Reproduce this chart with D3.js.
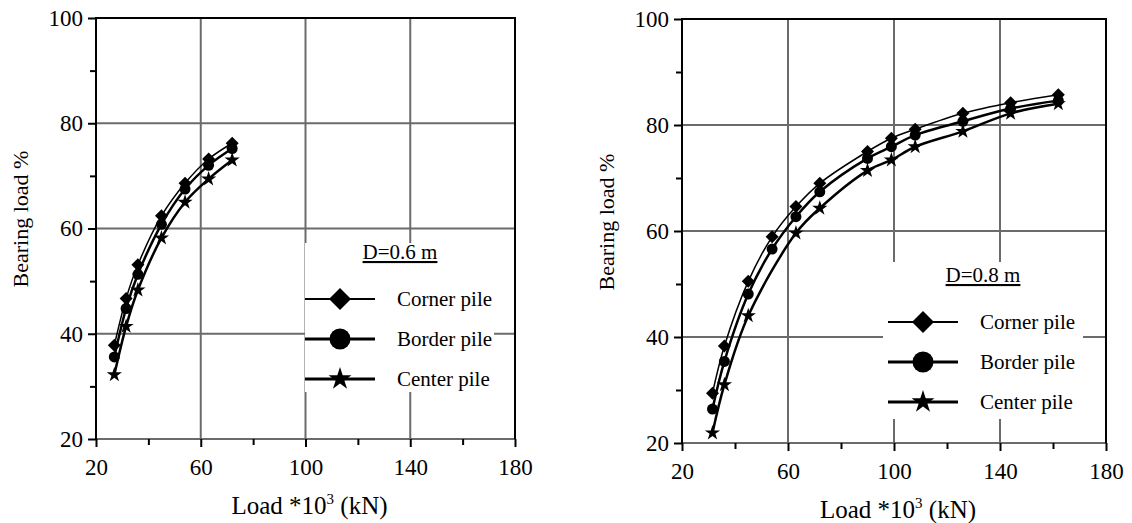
<!DOCTYPE html>
<html>
<head>
<meta charset="utf-8">
<script src="https://cdn.jsdelivr.net/npm/d3@7"></script>
<style>
  body { margin: 0; background: #fff; }
</style>
</head>
<body>
<div id="chart"></div>
<script>
// load *10^3 kN, bearing load %
var leftLoad = [27, 31.5, 36, 45, 54, 63, 72];
var leftCorner = [37.8, 46.7, 53.1, 62.4, 68.6, 73.2, 76.2];
var leftBorder = [35.6, 44.8, 51.3, 60.8, 67.5, 72.0, 75.2];
var leftCenter = [32.2, 41.4, 48.3, 58.2, 65.0, 69.4, 73.0];

var rightLoad = [31.5, 36, 45, 54, 63, 72, 90, 99, 108, 126, 144, 162];
var rightCenterLoad = [31.5, 36, 45, 63, 72, 90, 99, 108, 126, 144, 162];
var rightCorner = [29.4, 38.3, 50.5, 58.9, 64.6, 69.0, 75.0, 77.5, 79.2, 82.2, 84.2, 85.7];
var rightBorder = [26.4, 35.4, 48.1, 56.6, 62.7, 67.4, 73.7, 75.9, 78.1, 80.7, 83.1, 84.6];
var rightCenter = [21.9, 31.0, 44.0, 59.6, 64.3, 71.4, 73.4, 75.9, 78.8, 82.2, 84.0];

var seriesNames = ["Corner pile", "Border pile", "Center pile"];
var xMajor = [20, 60, 100, 140, 180],
    xMinor = [40, 80, 120, 160],
    yMajor = [20, 40, 60, 80, 100],
    yMinor = [30, 50, 70, 90];
var xGrid = [60, 100, 140],
    yGrid = [40, 60, 80];

var width = 1132, height = 523;
var gridColor = "#6b6b6b";

// pick a serif face that is really installed
function hasFont(name) {
  var ctx = document.createElement("canvas").getContext("2d");
  var s = "Bearing load % 0123456789";
  ctx.font = "40px monospace";
  var a = ctx.measureText(s).width;
  ctx.font = "40px '" + name + "', monospace";
  return ctx.measureText(s).width != a;
}
var fontFace = ["Liberation Serif", "Times New Roman", "Tinos", "Noto Serif", "DejaVu Serif"]
    .filter(hasFont)[0] || "serif";
var font = "'" + fontFace + "', serif";

var svg = d3.select("#chart").append("svg")
    .attr("width", width)
    .attr("height", height)
    .style("font-family", font);

function zip(xs, ys) {
  return xs.map(function(v, i) { return [v, ys[i]]; });
}

function marker(kind, s) {
  if (kind == 0) return "M0," + (-s) + "L" + s + ",0L0," + s + "L" + (-s) + ",0Z";
  if (kind == 1) return d3.symbol(d3.symbolCircle, Math.PI * s * s)();
  return d3.symbol(d3.symbolStar, s * s / 0.8908)();
}

var strokes = [1.5, 2.5, 2.5];
var sizes = [6.5, 5.5, 8];
var legendSizes = [11, 10.5, 12];

function panel(p) {
  var x = d3.scaleLinear().domain([20, 180]).range(p.xr);
  var y = d3.scaleLinear().domain([20, 100]).range(p.yr);
  var g = svg.append("g");

  // grid
  g.selectAll(".vg").data(xGrid).enter().append("line")
      .attr("x1", function(d) { return x(d); }).attr("x2", function(d) { return x(d); })
      .attr("y1", p.yr[0]).attr("y2", p.yr[1])
      .attr("stroke", gridColor).attr("stroke-width", 2);
  g.selectAll(".hg").data(yGrid).enter().append("line")
      .attr("y1", function(d) { return y(d); }).attr("y2", function(d) { return y(d); })
      .attr("x1", p.xr[0]).attr("x2", p.xr[1])
      .attr("stroke", gridColor).attr("stroke-width", 2);

  // legend box hides grid
  g.append("rect")
      .attr("x", p.box[0]).attr("y", p.box[1])
      .attr("width", p.box[2]).attr("height", p.box[3])
      .attr("fill", "#fff");

  // frame
  g.append("line").attr("x1", p.xr[0]).attr("x2", p.xr[1]).attr("y1", p.yr[0]).attr("y2", p.yr[0])
      .attr("stroke", gridColor).attr("stroke-width", 2);
  g.append("path")
      .attr("d", "M" + p.xr[0] + "," + p.yr[0] + "V" + p.yr[1] + "H" + p.xr[1] + "V" + p.yr[0])
      .attr("fill", "none").attr("stroke", "#000").attr("stroke-width", 2);

  // axes
  g.append("g").attr("transform", "translate(0," + p.yr[0] + ")")
      .call(d3.axisBottom(x).tickValues(xMajor).tickSize(8).tickPadding(12).tickFormat(d3.format("d")));
  g.append("g").attr("transform", "translate(0," + p.yr[0] + ")")
      .call(d3.axisBottom(x).tickValues(xMinor).tickSize(6).tickFormat(""));
  g.append("g").attr("transform", "translate(" + p.xr[0] + ",0)")
      .call(d3.axisLeft(y).tickValues(yMajor).tickSize(8).tickPadding(5).tickFormat(d3.format("d")));
  g.append("g").attr("transform", "translate(" + p.xr[0] + ",0)")
      .call(d3.axisLeft(y).tickValues(yMinor).tickSize(6).tickFormat(""));
  g.selectAll(".domain").remove();
  g.selectAll("g").attr("font-family", font).attr("font-size", 23);
  g.selectAll(".tick line").attr("stroke", "#000").attr("stroke-width", 2);
  g.selectAll(".tick text").attr("fill", "#000");

  // titles
  var xt = g.append("text")
      .attr("x", (p.xr[0] + p.xr[1]) / 2 + 4).attr("y", p.xTitleY)
      .attr("text-anchor", "middle").attr("font-size", 25);
  xt.append("tspan").text("Load *10");
  xt.append("tspan").attr("font-size", 15).attr("dy", -10).text("3");
  xt.append("tspan").attr("dy", 10).text(" (kN)");

  g.append("text")
      .attr("transform", "translate(" + p.yTitle[0] + "," + p.yTitle[1] + ") rotate(-90)")
      .attr("text-anchor", "middle").attr("font-size", 22)
      .text("Bearing load %");

  // series
  var line = d3.line()
      .x(function(d) { return x(d[0]); })
      .y(function(d) { return y(d[1]); })
      .curve(d3.curveCatmullRom.alpha(0.5));

  p.series.forEach(function(pts, k) {
    g.append("path").attr("d", line(pts))
        .attr("fill", "none").attr("stroke", "#000").attr("stroke-width", strokes[k]);
    g.selectAll(".m" + k).data(pts).enter().append("path")
        .attr("transform", function(d) { return "translate(" + x(d[0]) + "," + y(d[1]) + ")"; })
        .attr("d", marker(k, sizes[k]))
        .attr("fill", "#000");
  });

  // legend
  g.append("text")
      .attr("x", p.leg.titleX).attr("y", p.leg.titleY)
      .attr("text-anchor", "middle").attr("font-size", 21)
      .attr("text-decoration", "underline")
      .text(p.leg.title);
  seriesNames.forEach(function(name, k) {
    var ry = p.leg.rows[k];
    g.append("line")
        .attr("x1", p.leg.x0).attr("x2", p.leg.x1).attr("y1", ry).attr("y2", ry)
        .attr("stroke", "#000").attr("stroke-width", strokes[k] + 0.5);
    g.append("path")
        .attr("transform", "translate(" + (p.leg.x0 + p.leg.x1) / 2 + "," + ry + ")")
        .attr("d", marker(k, legendSizes[k]))
        .attr("fill", "#000");
    g.append("text")
        .attr("x", p.leg.tx).attr("y", ry + 7)
        .attr("font-size", 21)
        .text(name);
  });
}

panel({
  xr: [96, 515], yr: [439, 18],
  xTitleY: 514, yTitle: [28, 219],
  box: [305, 243, 189, 149],
  series: [zip(leftLoad, leftCorner), zip(leftLoad, leftBorder), zip(leftLoad, leftCenter)],
  leg: { title: "D=0.6 m", titleX: 400, titleY: 259, rows: [299, 339, 379], x0: 305, x1: 375, tx: 397 }
});

panel({
  xr: [682, 1106], yr: [443, 19],
  xTitleY: 518, yTitle: [614, 222],
  box: [883, 262, 200, 157],
  series: [zip(rightLoad, rightCorner), zip(rightLoad, rightBorder), zip(rightCenterLoad, rightCenter)],
  leg: { title: "D=0.8 m", titleX: 983, titleY: 282, rows: [322, 362, 402], x0: 888, x1: 958, tx: 980 }
});
</script>
</body>
</html>
